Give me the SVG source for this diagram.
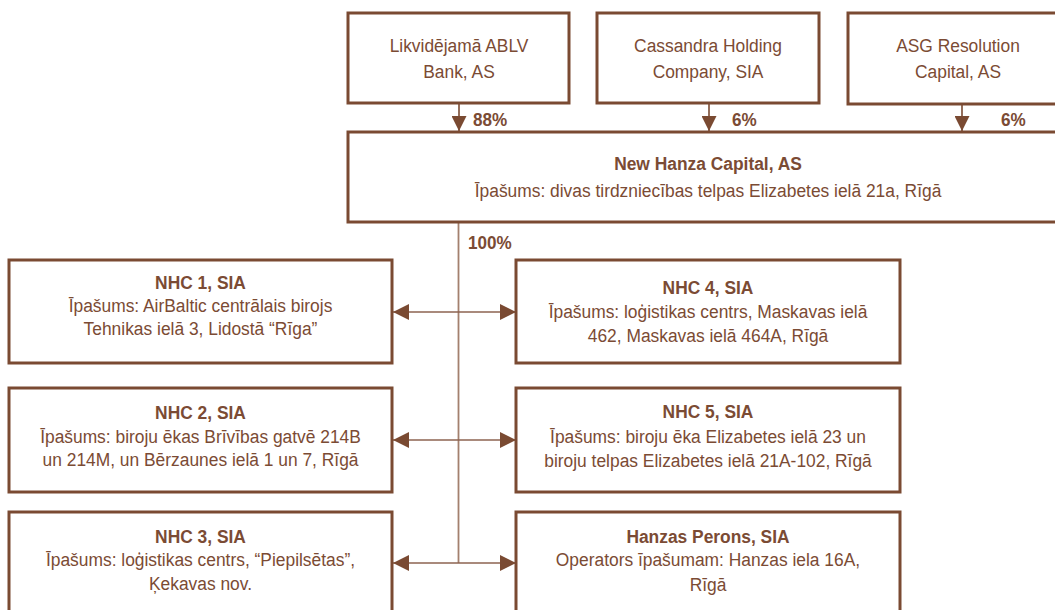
<svg xmlns="http://www.w3.org/2000/svg" width="1055" height="610" viewBox="0 0 1055 610">
<style>
.box{fill:#fff;stroke:#7A4A32;stroke-width:3}
.t{font-family:"Liberation Sans",Arial,sans-serif;font-size:19px;fill:#7B4B34;text-anchor:middle;transform-box:fill-box;transform-origin:center;transform:scaleX(0.915)}
.b{font-weight:bold}
.p{font-family:"Liberation Sans",Arial,sans-serif;font-size:19px;font-weight:bold;fill:#7B4B34;transform-box:fill-box;transform-origin:left center;transform:scaleX(0.9)}
.v{stroke:#A3806E;stroke-width:1.8;fill:none}
.h{stroke:#8C6350;stroke-width:1.6;fill:none}
.d{stroke:#7A4A32;stroke-width:1.6;fill:none}
</style>
<defs>
<marker id="ah" viewBox="0 0 16 16" refX="16" refY="8" markerWidth="16" markerHeight="16" markerUnits="userSpaceOnUse" orient="auto-start-reverse">
<path d="M0,0 L16,8 L0,16 Z" fill="#7A4A32"/>
</marker>
<marker id="dn" viewBox="0 0 15 15" refX="15" refY="7.5" markerWidth="15" markerHeight="15" markerUnits="userSpaceOnUse" orient="auto">
<path d="M0,0 L15,7.5 L0,15 Z" fill="#7A4A32"/>
</marker>
</defs>
<rect width="1055" height="610" fill="#fff"/>

<g id="connectors">
<line class="d" x1="459" y1="104" x2="459" y2="131" marker-end="url(#dn)"/>
<line class="d" x1="709" y1="104" x2="709" y2="131" marker-end="url(#dn)"/>
<line class="d" x1="962" y1="104" x2="962" y2="131" marker-end="url(#dn)"/>
<text class="p" x="473" y="126">88%</text>
<text class="p" x="732" y="126">6%</text>
<text class="p" x="1001" y="126">6%</text>
<line class="v" x1="458.5" y1="222" x2="458.5" y2="563"/>
<text class="p" x="468" y="249">100%</text>
<line class="h" x1="393" y1="312" x2="516" y2="312" marker-start="url(#ah)" marker-end="url(#ah)"/>
<line class="h" x1="393" y1="440" x2="516" y2="440" marker-start="url(#ah)" marker-end="url(#ah)"/>
<line class="h" x1="393" y1="563" x2="516" y2="563" marker-start="url(#ah)" marker-end="url(#ah)"/>
</g>

<g id="n-ablv">
<rect class="box" x="348" y="13" width="221" height="90"/>
<text class="t" x="459" y="52">Likvidējamā ABLV</text>
<text class="t" x="459" y="78">Bank, AS</text>
</g>
<g id="n-cassandra">
<rect class="box" x="597" y="13" width="222" height="90"/>
<text class="t" x="708" y="52">Cassandra Holding</text>
<text class="t" x="708" y="78">Company, SIA</text>
</g>
<g id="n-asg">
<rect class="box" x="848" y="13" width="220" height="91"/>
<text class="t" x="958" y="52">ASG Resolution</text>
<text class="t" x="958" y="78">Capital, AS</text>
</g>
<g id="n-nhc">
<rect class="box" x="348" y="132" width="720" height="90"/>
<text class="t b" x="708" y="170">New Hanza Capital, AS</text>
<text class="t" x="708" y="197">Īpašums: divas tirdzniecības telpas Elizabetes ielā 21a, Rīgā</text>
</g>
<g id="n-nhc1">
<rect class="box" x="9" y="260" width="383" height="103"/>
<text class="t b" x="200.5" y="289">NHC 1, SIA</text>
<text class="t" x="200.5" y="312">Īpašums: AirBaltic centrālais birojs</text>
<text class="t" x="200.5" y="335">Tehnikas ielā 3, Lidostā “Rīga”</text>
</g>
<g id="n-nhc4">
<rect class="box" x="516" y="260" width="384" height="103"/>
<text class="t b" x="708" y="294">NHC 4, SIA</text>
<text class="t" x="708" y="318">Īpašums: loģistikas centrs, Maskavas ielā</text>
<text class="t" x="708" y="342">462, Maskavas ielā 464A, Rīgā</text>
</g>
<g id="n-nhc2">
<rect class="box" x="9" y="388" width="383" height="104"/>
<text class="t b" x="200.5" y="419">NHC 2, SIA</text>
<text class="t" x="200.5" y="443">Īpašums: biroju ēkas Brīvības gatvē 214B</text>
<text class="t" x="200.5" y="466">un 214M, un Bērzaunes ielā 1 un 7, Rīgā</text>
</g>
<g id="n-nhc5">
<rect class="box" x="516" y="388" width="384" height="104"/>
<text class="t b" x="708" y="418">NHC 5, SIA</text>
<text class="t" x="708" y="443">Īpašums: biroju ēka Elizabetes ielā 23 un</text>
<text class="t" x="708" y="467">biroju telpas Elizabetes ielā 21A-102, Rīgā</text>
</g>
<g id="n-nhc3">
<rect class="box" x="9" y="512" width="383" height="110"/>
<text class="t b" x="200.5" y="543">NHC 3, SIA</text>
<text class="t" x="200.5" y="566">Īpašums: loģistikas centrs, “Piepilsētas”,</text>
<text class="t" x="200.5" y="590">Ķekavas nov.</text>
</g>
<g id="n-hp">
<rect class="box" x="516" y="512" width="384" height="110"/>
<text class="t b" x="708" y="543">Hanzas Perons, SIA</text>
<text class="t" x="708" y="566">Operators īpašumam: Hanzas iela 16A,</text>
<text class="t" x="708" y="591">Rīgā</text>
</g>
</svg>
